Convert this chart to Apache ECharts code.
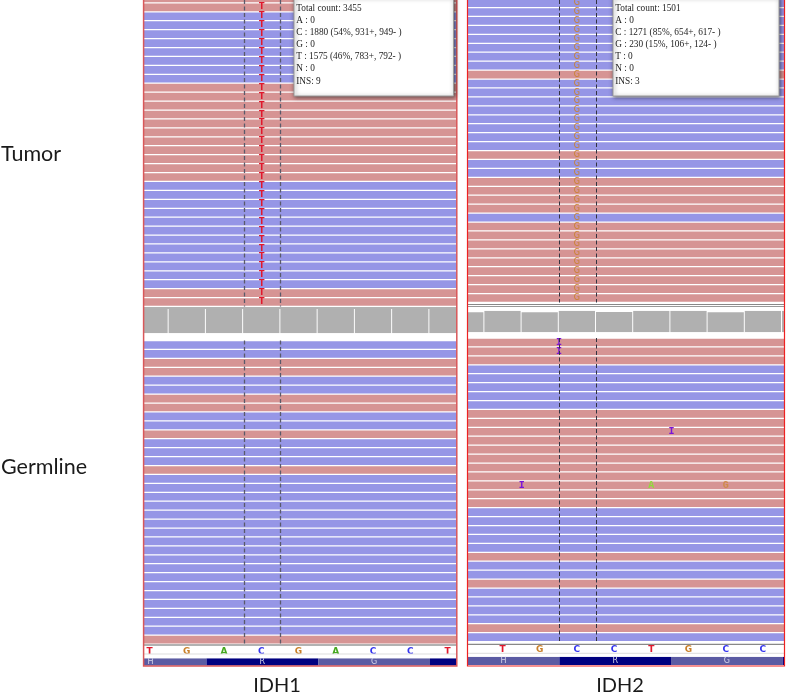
<!DOCTYPE html>
<html><head><meta charset="utf-8">
<style>html,body{margin:0;padding:0;background:#fff;overflow:hidden}#c{width:787px;height:695px}</style>
<script src="https://cdn.jsdelivr.net/npm/echarts@6/dist/echarts.min.js"></script>
</head><body><div id="c"></div>
<script>
// P = reverse-strand (pink) read, B = forward-strand (blue) read; rows listed top to bottom
const tumorIDH1Strands    = 'PPBBBBBBBBPPPPPPPPPPPBBBBBBBBBBBBPP'.split('');
const tumorIDH2Strands    = 'BBBBBBBBPBBBBBBBBPBBPPPPBPPPPPPPPP'.split('');
const germlineIDH1Strands = 'BBPPBBPPBBPBBBPBBBBBBBBBBBBBBBBBBP'.split('');
const germlineIDH2Strands = 'PPPBBBBBPPPPPPPPPPPBBBBBPBBPBBBBPB'.split('');
const refIDH1 = ['T','G','A','C','G','A','C','C','T'];
const refIDH2 = ['T','G','C','C','T','G','C','C'];
const aminoAcids = ['H','R','G',''];
const aminoStarts = [-1.47, 1.53, 4.53, 7.53];
const coverageIDH1 = [3455,3455,3455,3455,3455,3455,3455,3455,3455];
const coverageIDH2 = [1400,1501,1400,1501,1410,1501,1501,1390,1501,1501];
const variantBase = {IDH1: 3.01, IDH2: 2};
const variantLetter = {IDH1: 'T', IDH2: 'G'};
const dashesIDH1 = [2.545, 3.52];
const dashesIDH2 = [1.522, 2.516];
// [letter, base, row] in germline IDH2
const germlineIDH2Marks = [['I',1.52,0],['I',1.52,1],['I',4.54,10],['I',0.52,16],['A',4,16],['G',6,16]];
const popupIDH1 = ['Total count: 3455','A : 0','C : 1880 (54%, 931+, 949- )','G : 0','T : 1575 (46%, 783+, 792- )','N : 0','INS: 9'];
const popupIDH2 = ['Total count: 1501','A : 0','C : 1271 (85%, 654+, 617- )','G : 230 (15%, 106+, 124- )','T : 0','N : 0','INS: 3'];

const BLUE='#9696e6', PINK='#d69494';
const LETTER={T:'#e0182c',G:'#c9802a',A:'#45a81e',C:'#3535ee',I:'#7a14d8'};
const MARK={I:'#7a14d8',A:'#8fdc3a',G:'#cf8a4a'};

const grids=[],xAxes=[],yAxes=[],series=[];
function panel(box,xr,yr,inverse){
  const i=grids.length;
  grids.push(Object.assign({containLabel:false},box));
  xAxes.push({type:'value',gridIndex:i,min:xr[0],max:xr[1],show:false,scale:true});
  yAxes.push({type:'value',gridIndex:i,min:yr[0],max:yr[1],show:false,inverse:!!inverse,scale:true});
  return i;
}
function rects(i,data,colorOf,z){
  series.push({type:'custom',xAxisIndex:i,yAxisIndex:i,clip:true,silent:true,z:z||2,
    encode:{x:[0,1],y:[2,3]},data:data,
    renderItem:function(p,api){
      const a=api.coord([api.value(0),api.value(2)]),b=api.coord([api.value(1),api.value(3)]);
      return {type:'rect',shape:{x:a[0],y:Math.min(a[1],b[1]),width:b[0]-a[0],height:Math.abs(b[1]-a[1])},
        style:{fill:colorOf(p.dataIndex)}};
    }});
}
function letters(i,list,font,colorOf){
  series.push({type:'custom',xAxisIndex:i,yAxisIndex:i,clip:true,silent:true,z:4,
    encode:{x:0,y:1},data:list.map(function(d){return [d[1],d[2]];}),
    renderItem:function(p,api){
      const c=api.coord([api.value(0),api.value(1)]);
      const t=list[p.dataIndex][0];
      return {type:'text',style:{x:c[0],y:c[1],text:t,fill:colorOf(t),font:font,align:'center',verticalAlign:'middle'}};
    }});
}
function dashes(i,xs,yr,color,w){
  series.push({type:'line',xAxisIndex:i,yAxisIndex:i,data:[],silent:true,z:3,symbol:'none',
    markLine:{silent:true,symbol:'none',label:{show:false},animation:false,
      lineStyle:{type:[4,2.5],color:color,width:w},
      data:xs.map(function(x){return {xAxis:x};})}});
}
function reads(box,xr,yr,strands,xs,color,w){
  const i=panel(box,xr,yr,true);
  rects(i,strands.map(function(s,k){return [xr[0]-1,xr[1]+1,k+0.07,k+0.93];}),
    function(n){return strands[n]==='B'?BLUE:PINK;});
  dashes(i,xs,yr,color,w);
  return i;
}
function coverage(box,xr,maxV,vals,firstBase){
  const i=panel(box,xr,[0,maxV]);
  rects(i,vals.map(function(v,n){const b=firstBase+n;return [b-0.487,b+0.487,0,v];}),
    function(){return '#b0b0b0';});
}
function refTrack(seqBox,aaBox,xr,ref){
  const s=panel(seqBox,xr,[0,1]);
  letters(s,ref.map(function(l,n){return [l,n,0.5];}),'bold 9px "DejaVu Sans"',function(t){return LETTER[t];});
  const a=panel(aaBox,xr,[0,1]);
  rects(a,aminoStarts.map(function(st){return [st,st+3,0,1];}),
    function(n){return n%2?'#000080':'#5b5ba3';});
  letters(a,aminoAcids.map(function(l,n){return [l,aminoStarts[n]+1.5,0.5];}),'8px "DejaVu Sans"',function(){return '#d5d5e8';});
}

const xr1=[-0.148,8.244], xr2=[-0.935,7.575];
const box1={left:144,width:312.6}, box2={left:467.7,width:316.6};
function B(b,top,h){return {left:b.left,width:b.width,top:top,height:h};}

// IDH1
let t=reads(B(box1,0,306.5),xr1,[0.68,35],tumorIDH1Strands,dashesIDH1,'#5a5a6a',1.3);
letters(t,tumorIDH1Strands.map(function(s,k){return [variantLetter.IDH1,variantBase.IDH1,k+0.5];}),'bold 8px "DejaVu Sans"',function(l){return LETTER[l];});
coverage(B(box1,308.8,24.5),xr1,3455,coverageIDH1,0);
reads(B(box1,340.5,303.6),xr1,[0,34],germlineIDH1Strands,dashesIDH1,'#5a5a6a',1.3);
refTrack(B(box1,646,11),B(box1,658.3,7.4),xr1,refIDH1);

// IDH2
t=reads(B(box2,0,302.5),xr2,[0.157,34],tumorIDH2Strands,dashesIDH2,'#333340',1);
letters(t,tumorIDH2Strands.map(function(s,k){return [variantLetter.IDH2,variantBase.IDH2,k+0.5];}),'8px "DejaVu Sans"',function(l){return LETTER[l];});
coverage(B(box2,310.7,21.5),xr2,1501,coverageIDH2,-1);
const g=reads(B(box2,338,303.6),xr2,[0,34],germlineIDH2Strands,dashesIDH2,'#333340',1);
letters(g,germlineIDH2Marks.map(function(m){return [m[0],m[1],m[2]+0.5];}),'bold 10px "Liberation Mono"',function(l){return MARK[l];});
refTrack(B(box2,644.5,11),B(box2,656.7,8.3),xr2,refIDH2);

function hline(x1,x2,y,color,w){return {type:'line',z:40,silent:true,shape:{x1:x1,y1:y,x2:x2,y2:y},style:{stroke:color,lineWidth:w}};}
function frame(x,w,color,lw){return {type:'rect',z:50,silent:true,shape:{x:x,y:-3,width:w,height:669},style:{fill:'none',stroke:color,lineWidth:lw}};}
function popup(x,w,lines){
  const els=[{type:'rect',z:100,silent:true,shape:{x:x,y:-3,width:w,height:99},
    style:{fill:'#fff',stroke:'#9a9a9a',lineWidth:1,shadowBlur:4,shadowColor:'rgba(0,0,0,0.55)',shadowOffsetX:1,shadowOffsetY:1}}];
  lines.forEach(function(s,n){
    els.push({type:'text',z:101,silent:true,style:{x:x+2.2,y:8.5+n*12.1,text:s,fill:'#222',font:'9.3px "Liberation Serif"',align:'left',verticalAlign:'middle'}});
  });
  return els;
}
function label(x,y,s,align,size){return {type:'text',z:60,silent:true,style:{x:x,y:y,text:s,fill:'#1a1a1a',font:size+'px Lato',align:align,verticalAlign:'middle'}};}

const graphics=[].concat(
  [hline(144,456.6,308,'#999',1.5),hline(144,456.6,645,'#999',1.5),hline(144,456.6,654,'#ddd',1),
   hline(467.7,784.3,304.5,'#888',1),hline(467.7,784.3,306.5,'#999',1),hline(467.7,784.3,644.3,'#888',1.2),hline(467.7,784.3,653.3,'#ddd',1),
   frame(143.6,313.2,'#d9585a',1.5),frame(467.5,317,'#ee2222',1.2)],
  popup(294,159.5,popupIDH1),popup(613,166,popupIDH2),
  [label(1,154,'Tumor','left',21.5),label(1,467,'Germline','left',21.5),label(277,686,'IDH1','center',20),label(620,686,'IDH2','center',20)]
);

const chart=echarts.init(document.getElementById('c'),null,{renderer:'canvas'});
chart.setOption({animation:false,backgroundColor:'#fff',tooltip:{show:false},
  grid:grids,xAxis:xAxes,yAxis:yAxes,series:series,graphic:{elements:graphics}});
</script></body></html>
